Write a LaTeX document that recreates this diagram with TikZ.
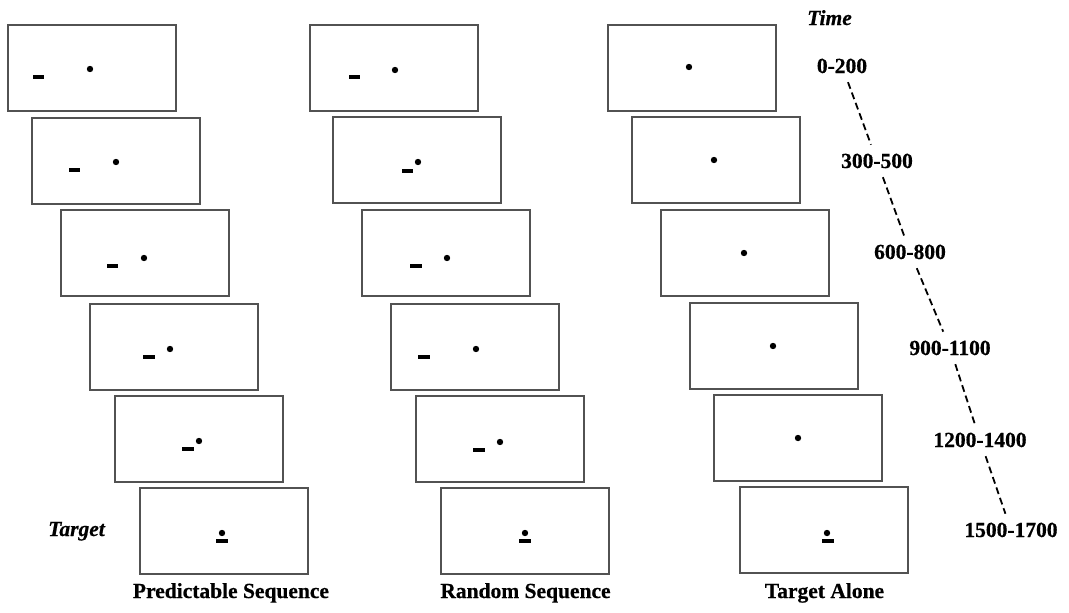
\documentclass[tikz,border=0pt]{standalone}
\usepackage{fontspec}
\setmainfont{Liberation Serif}[BoldFeatures={FakeBold=0.6},BoldItalicFeatures={FakeBold=0.6}]
\newcommand\fixdot[2]{\fill (#1,#2) circle (3.2pt);}
\newcommand\cuebar[2]{\fill ({#1-5.8},{#2-1.8}) rectangle ++(11.6,3.6);}
\begin{document}
\begin{tikzpicture}[x=1pt,y=-1pt,
  screen/.style={draw=black!68, line width=1.3pt, minimum width=168pt,
    minimum height=86pt, inner sep=0pt, outer sep=0pt, anchor=north west},
  caption/.style={font=\fontsize{21.5}{24}\selectfont\bfseries, anchor=base, inner sep=0pt},
  tag/.style={font=\fontsize{21.5}{24}\selectfont\bfseries\itshape, anchor=base, inner sep=0pt},
  period/.style={font=\fontsize{21.5}{24}\selectfont\bfseries, anchor=base,
    inner sep=0pt, outer xsep=0pt, outer ysep=9pt},
  timeline/.style={line width=1.8pt, dash pattern=on 7pt off 4pt}]
\useasboundingbox (0,0) rectangle (1069,613);

% Predictable sequence: cue approaches the fixation point
\node[screen] (p1) at (8,25) {};
\node[screen] (p2) at (32,118) {};
\node[screen] (p3) at (61,210) {};
\node[screen] (p4) at (90,304) {};
\node[screen] (p5) at (115,396) {};
\node[screen] (p6) at (140,488) {};
\fixdot{90}{69}   \cuebar{38.5}{77}
\fixdot{116}{162} \cuebar{74.5}{170}
\fixdot{144}{258} \cuebar{112.5}{266}
\fixdot{170}{349} \cuebar{149}{357}
\fixdot{199}{441} \cuebar{188}{449}
\fixdot{222}{533} \cuebar{222}{541}

% Random sequence: cue jumps around
\node[screen] (r1) at (310,25) {};
\node[screen] (r2) at (333,117) {};
\node[screen] (r3) at (362,210) {};
\node[screen] (r4) at (391,304) {};
\node[screen] (r5) at (416,396) {};
\node[screen] (r6) at (441,488) {};
\fixdot{395}{70}  \cuebar{354.5}{77}
\fixdot{418}{162} \cuebar{407.5}{171}
\fixdot{447}{258} \cuebar{416}{266}
\fixdot{476}{349} \cuebar{424}{357}
\fixdot{500}{442} \cuebar{479}{450}
\fixdot{525}{533} \cuebar{525}{541}

% Target alone: fixation only, target in last frame
\node[screen] (a1) at (608,25) {};
\node[screen] (a2) at (632,117) {};
\node[screen] (a3) at (661,210) {};
\node[screen] (a4) at (690,303) {};
\node[screen] (a5) at (714,395) {};
\node[screen] (a6) at (740,487) {};
\fixdot{689}{67}
\fixdot{714}{160}
\fixdot{744}{253}
\fixdot{773}{346}
\fixdot{798}{438}
\fixdot{827}{533} \cuebar{828}{541}

% condition captions
\node[caption] (cp) at (231,598) {Predictable Sequence};
\node[caption] (cr) at (525.5,598) {Random Sequence};
\node[caption] (ca) at (824.5,598) {Target Alone};
\node[tag] (tg) at (76.5,536) {Target};
\node[tag] (tm) at (829.5,25) {Time};

% time axis
\node[period] (t0) at (842,73) {0-200};
\node[period] (t1) at (877,168) {300-500};
\node[period] (t2) at (910,259) {600-800};
\node[period] (t3) at (950,355) {900-1100};
\node[period] (t4) at (980,447) {1200-1400};
\node[period] (t5) at (1011,537) {1500-1700};
\draw[timeline] (t0) -- (t1);
\draw[timeline] (t1) -- (t2);
\draw[timeline] (t2) -- (t3);
\draw[timeline] (t3) -- (t4);
\draw[timeline] (t4) -- (t5);
\end{tikzpicture}
\end{document}
